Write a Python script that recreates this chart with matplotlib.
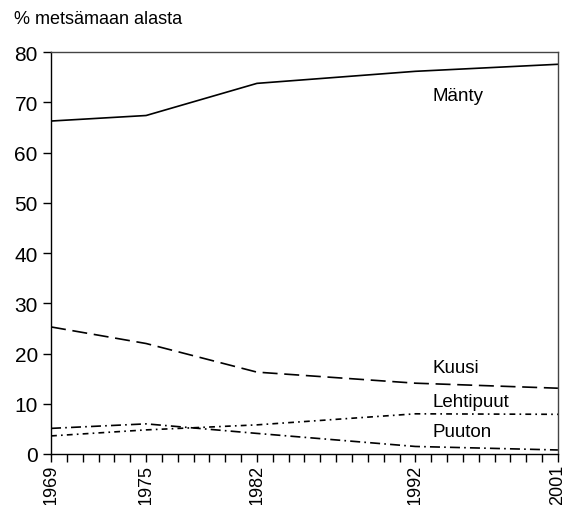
import matplotlib
matplotlib.use("Agg")
import matplotlib.pyplot as plt

plt.rcParams['font.family'] = ['Liberation Sans', 'DejaVu Sans']

years = [1969, 1975, 1982, 1992, 2001]
manty = [66.3, 67.4, 73.8, 76.2, 77.6]
kuusi = [25.3, 22.0, 16.3, 14.1, 13.1]
lehtipuut = [3.6, 4.8, 5.8, 8.0, 7.9]
puuton = [5.1, 6.0, 4.1, 1.5, 0.8]
tick_years = [1969, 1975, 1982, 1992, 2001]
y_ticks = [0, 10, 20, 30, 40, 50, 60, 70, 80]

fig = plt.figure(figsize=(5.67, 5.06), dpi=100)
ax = fig.add_axes([0.090, 0.1008, 0.894, 0.794])

lw = 1.2
ax.plot(years, manty, color='black', lw=lw, linestyle='-')
ax.plot(years, kuusi, color='black', lw=lw, linestyle=(0, (9, 4)))
ax.plot(years, lehtipuut, color='black', lw=lw, linestyle=(0, (3.5, 2.5, 1, 2.5)))
ax.plot(years, puuton, color='black', lw=lw, linestyle=(0, (6, 2.5, 1, 2.5)))

ax.set_xlim(1969, 2001)
ax.set_ylim(0, 80)
ax.set_yticks(y_ticks)
ax.set_xticks(list(range(1969, 2002)))
ax.set_xticklabels([str(y) if y in tick_years else '' for y in range(1969, 2002)],
                   rotation=90)
ax.tick_params(axis='both', direction='out', length=6, width=1, labelsize=15,
               colors='black')
ax.tick_params(axis='x', pad=1, labelsize=13)

for s in ax.spines.values():
    s.set_linewidth(1.0)
ax.spines['top'].set_color('#444444')
ax.spines['right'].set_color('#444444')

fs = 13.5
ax.text(1993.1, 71.4, 'Mänty', fontsize=fs, va='center', ha='left')
ax.text(1993.1, 17.3, 'Kuusi', fontsize=fs, va='center', ha='left')
ax.text(1993.1, 10.4, 'Lehtipuut', fontsize=fs, va='center', ha='left')
ax.text(1993.1, 4.4, 'Puuton', fontsize=fs, va='center', ha='left')

fig.text(14/567, 1 - 20/506, '% metsämaan alasta', fontsize=13, va='center', ha='left')

fig.savefig('out.png', dpi=100)
